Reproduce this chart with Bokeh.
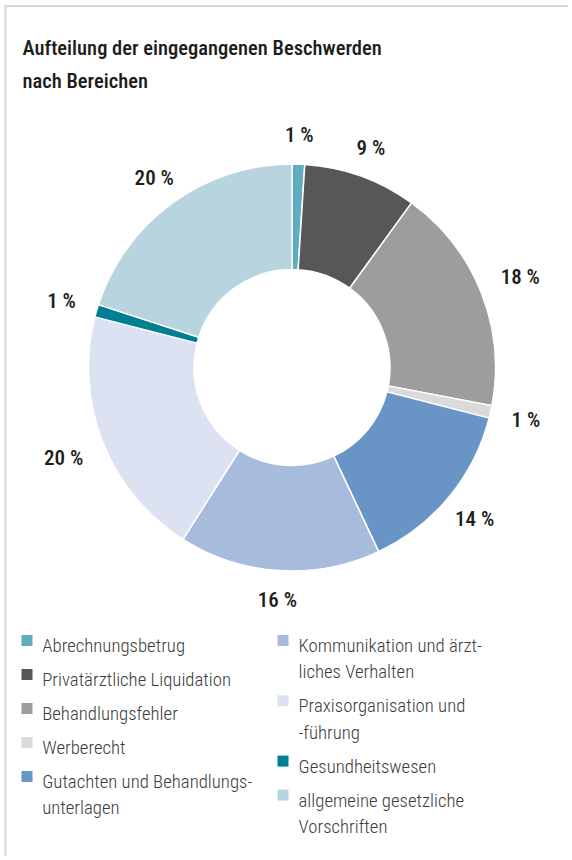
import numpy as np
from bokeh.plotting import figure
from bokeh.models import Range1d, ColumnDataSource
from bokeh.core.properties import value
from bokeh.embed import file_html
from bokeh.resources import INLINE

# ---------------- data ----------------
title_lines = ["Aufteilung der eingegangenen Beschwerden", "nach Bereichen"]
categories = [
    "Abrechnungsbetrug",
    "Privatärztliche Liquidation",
    "Behandlungsfehler",
    "Werberecht",
    "Gutachten und Behandlungsunterlagen",
    "Kommunikation und ärztliches Verhalten",
    "Praxisorganisation und -führung",
    "Gesundheitswesen",
    "allgemeine gesetzliche Vorschriften",
]
legend_lines = [
    ["Abrechnungsbetrug"],
    ["Privatärztliche Liquidation"],
    ["Behandlungsfehler"],
    ["Werberecht"],
    ["Gutachten und Behandlungs-", "unterlagen"],
    ["Kommunikation und ärzt-", "liches Verhalten"],
    ["Praxisorganisation und", "-führung"],
    ["Gesundheitswesen"],
    ["allgemeine gesetzliche", "Vorschriften"],
]
shares = [1, 9, 18, 1, 14, 16, 20, 1, 20]
colors = ["#5fadc0", "#575756", "#9d9d9c", "#dadada", "#6894c6",
          "#a7bbdd", "#dce2f1", "#007e92", "#b8d5df"]

# ---------------- layout ----------------
W, H = 568, 856
FONT_MED = value("Roboto Condensed Medium, Roboto Condensed")
FONT_LIGHT = value("Roboto Condensed Light, Roboto Condensed")


def X(px):
    return px


def Y(py):
    return H - py


p = figure(width=W, height=H, x_range=Range1d(0, W), y_range=Range1d(0, H),
           output_backend="svg", toolbar_location=None,
           x_axis_location=None, y_axis_location=None, min_border=0)
p.grid.visible = False
p.outline_line_color = None
p.background_fill_color = "white"
p.border_fill_color = "white"

# frame lines (left and top)
p.segment(x0=[X(5), X(4)], y0=[Y(H), Y(5.5)], x1=[X(5), X(W)], y1=[Y(5), Y(5.5)],
          line_color="#d8d8d8", line_width=2)

# title
p.text(x=[X(22)] * 2, y=[Y(47.5), Y(80)], text=title_lines,
       text_font=FONT_MED, text_font_size="20.5px", text_color="#1d1d1b",
       text_baseline="alphabetic", text_align="left")

# donut
cx, cy = X(291.5), Y(367)
r_in, r_out = 98, 203.5
vals = np.array(shares, dtype=float)
frac = vals / vals.sum()
cum_end = np.cumsum(frac)
cum_start = cum_end - frac
src = ColumnDataSource(dict(
    start=np.pi / 2 - 2 * np.pi * cum_end,
    end=np.pi / 2 - 2 * np.pi * cum_start,
    color=colors,
    cat=categories,
))
p.annular_wedge(x=cx, y=cy, inner_radius=r_in, outer_radius=r_out,
                start_angle="start", end_angle="end", fill_color="color",
                line_color="white", line_width=1.5, source=src)

# value labels: label box kept at a fixed gap outside the ring along the bisector
theta = 2 * np.pi * (cum_start + frac / 2)
labels = [f"{v} %" for v in shares]
hw = np.array([(len(str(v)) * 9.6 + 20) / 2 for v in shares])
hh = 8.0
s = np.maximum(np.abs(np.sin(theta)), 1e-6)
c = np.maximum(np.abs(np.cos(theta)), 1e-6)
rl = 224.5 + np.minimum(hw / s, hh / c)
p.text(x=cx + rl * np.sin(theta), y=cy + rl * np.cos(theta), text=labels,
       text_font=FONT_MED, text_font_size="21px",
       text_color="#1d1d1b", text_align="center", text_baseline="middle")

# legend
col_sq_x = [X(26.5), X(282.5)]
col_tx_x = [X(41.7), X(298)]
first_base = 645.5
line_h = 26.3
item_gap = 7.7
sq_x, sq_y, sq_c = [], [], []
tx_x, tx_y, tx_t = [], [], []
for col, idxs in enumerate([range(0, 5), range(5, 9)]):
    base = first_base
    for i in idxs:
        sq_x.append(col_sq_x[col])
        sq_y.append(Y(base) + 5.5)
        sq_c.append(colors[i])
        for j, line in enumerate(legend_lines[i]):
            tx_x.append(col_tx_x[col])
            tx_y.append(Y(base + j * line_h))
            tx_t.append(line)
        base += len(legend_lines[i]) * line_h + item_gap

p.rect(x=sq_x, y=sq_y, width=11, height=11, fill_color=sq_c, line_color=None)
p.text(x=tx_x, y=tx_y, text=tx_t, text_font=FONT_LIGHT, text_font_size="18.8px",
       text_color="#3c3c3b", text_baseline="alphabetic", text_align="left")

open("out.html", "w").write(file_html(p, INLINE))
